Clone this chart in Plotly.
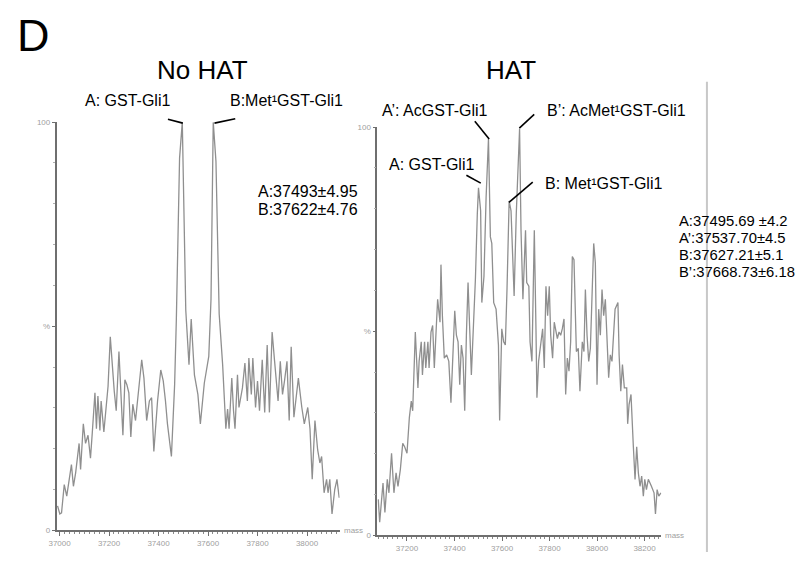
import plotly.graph_objects as go

# page geometry: the reference is 806x565; the browser keeps its default 8px body margin,
# so the figure is made 16px smaller and every position is given in page pixels.
PAGE_W, PAGE_H = 806, 565
OFF = 8
W, H = PAGE_W - 2 * OFF, PAGE_H - 2 * OFF

# ---------------- data ----------------
nohat_mass = [36992, 37001, 37008, 37019, 37029, 37048, 37056, 37065, 37079, 37085,
              37096, 37105, 37115, 37125, 37132, 37143, 37149, 37155, 37163, 37168,
              37179, 37187, 37196, 37205, 37213, 37221, 37229, 37240, 37256, 37264,
              37272, 37280, 37288, 37296, 37307, 37319, 37332, 37341, 37352, 37363,
              37372, 37381, 37396, 37409, 37419, 37428, 37436, 37452, 37465, 37472,
              37485, 37496, 37510, 37523, 37532, 37545, 37559, 37569, 37585, 37603,
              37612, 37621, 37632, 37645, 37659, 37672, 37679, 37685, 37696, 37703,
              37709, 37719, 37725, 37739, 37749, 37759, 37765, 37775, 37781, 37792,
              37800, 37808, 37819, 37829, 37839, 37848, 37859, 37869, 37883, 37892,
              37901, 37909, 37919, 37928, 37936, 37947, 37955, 37965, 37979, 37989,
              38003, 38012, 38021, 38032, 38043, 38052, 38059, 38069, 38079, 38085,
              38092, 38101, 38112, 38121, 38130]
nohat_int = [6.0, 4.0, 4.3, 11.2, 8.4, 16.1, 10.8, 14.1, 21.3, 14.9,
             26.1, 21.3, 23.3, 17.7, 23.7, 33.7, 24.9, 32.9, 24.5, 31.7,
             24.1, 30.1, 35.3, 47.4, 39.8, 34.1, 29.3, 43.8, 23.3, 36.9,
             35.7, 33.7, 22.9, 30.9, 26.9, 34.9, 41.8, 37.3, 26.9, 31.7,
             32.5, 19.3, 31.7, 39.3, 36.6, 31.7, 26.1, 18.1, 35.7, 51.8,
             91.2, 100.0, 54.0, 40.6, 51.8, 38.1, 33.3, 26.1, 36.1, 42.6,
             56.6, 100.0, 90.4, 53.0, 40.6, 24.9, 29.7, 24.9, 37.3, 29.3,
             24.9, 38.1, 30.1, 34.9, 41.0, 31.7, 42.2, 33.3, 42.2, 30.1,
             36.6, 29.3, 41.8, 28.9, 45.4, 28.9, 48.6, 41.4, 31.7, 41.4,
             33.3, 36.6, 41.4, 26.9, 45.0, 27.7, 32.5, 37.3, 30.1, 26.1,
             30.1, 24.9, 12.5, 26.9, 19.7, 16.5, 18.1, 9.2, 12.5, 9.2,
             12.5, 4.0, 10.0, 12.5, 8.0]

hat_mass = [37079, 37085, 37099, 37107, 37117, 37124, 37135, 37145, 37154, 37162,
            37172, 37182, 37190, 37200, 37210, 37218, 37224, 37235, 37246, 37251,
            37260, 37265, 37274, 37279, 37288, 37293, 37301, 37308, 37315, 37321,
            37329, 37339, 37343, 37349, 37357, 37367, 37376, 37385, 37395, 37401,
            37408, 37415, 37422, 37429, 37436, 37443, 37450, 37457, 37464, 37471,
            37478, 37488, 37496, 37501, 37510, 37515, 37524, 37533, 37543, 37551,
            37557, 37565, 37575, 37585, 37590, 37599, 37607, 37614, 37621, 37626,
            37630, 37638, 37645, 37651, 37660, 37674, 37680, 37688, 37699, 37704,
            37713, 37718, 37726, 37736, 37743, 37747, 37754, 37764, 37771, 37778,
            37785, 37792, 37799, 37805, 37813, 37820, 37826, 37833, 37840, 37847,
            37854, 37861, 37868, 37875, 37882, 37889, 37896, 37903, 37913, 37921,
            37928, 37938, 37945, 37951, 37958, 37965, 37972, 37979, 37986, 37993,
            38000, 38007, 38014, 38021, 38028, 38035, 38042, 38049, 38056, 38063,
            38076, 38088, 38093, 38100, 38107, 38115, 38125, 38129, 38135, 38143,
            38153, 38160, 38167, 38174, 38181, 38188, 38195, 38201, 38208, 38216,
            38229, 38240, 38246, 38253, 38260, 38269]
hat_int = [8.8, 3.2, 12.8, 5.6, 13.7, 10.4, 20.1, 10.4, 15.3, 12.0,
           16.1, 22.5, 21.7, 20.1, 28.9, 32.9, 30.5, 49.8, 36.1, 42.6,
           47.4, 39.3, 47.4, 41.0, 47.4, 41.0, 49.8, 51.4, 41.0, 47.4,
           57.8, 52.2, 66.3, 53.8, 43.4, 44.2, 42.6, 32.5, 46.6, 55.0,
           49.0, 47.4, 36.9, 46.6, 43.4, 30.5, 49.0, 61.9, 50.6, 39.3,
           49.0, 62.7, 78.7, 85.1, 79.5, 57.0, 63.4, 82.7, 97.2, 73.1,
           71.5, 57.0, 55.4, 46.6, 28.1, 50.6, 47.4, 46.6, 60.2, 75.5,
           81.9, 79.5, 69.9, 58.6, 78.7, 99.6, 74.7, 57.8, 74.7, 61.9,
           61.0, 47.4, 42.6, 74.7, 50.6, 33.7, 42.6, 47.4, 50.6, 41.0,
           61.0, 53.8, 61.0, 49.0, 43.4, 52.2, 50.6, 48.2, 49.8, 49.0,
           50.6, 53.0, 34.5, 43.4, 40.2, 47.4, 68.3, 67.5, 45.0, 45.8,
           35.3, 47.4, 45.0, 60.2, 49.0, 42.6, 45.8, 58.6, 71.5, 66.7,
           36.9, 55.4, 49.0, 60.2, 53.8, 57.8, 47.4, 38.6, 44.2, 42.6,
           55.4, 57.0, 44.2, 35.3, 41.8, 36.1, 36.1, 27.3, 32.1, 34.5,
           21.7, 13.7, 21.7, 15.3, 12.0, 14.5, 9.6, 13.7, 11.2, 13.7,
           12.0, 10.4, 5.2, 11.2, 9.6, 10.4]

nohat_ticks = [37000, 37200, 37400, 37600, 37800, 38000]
hat_ticks = [37200, 37400, 37600, 37800, 38000, 38200]
y_tickvals = [0, 50, 100]
y_ticktext = ["0", "%", "100"]

panel_titles = ["No HAT", "HAT"]
nohat_labels = ["A: GST-Gli1", "B:Met\u00b9GST-Gli1"]
nohat_stats = ["A:37493\u00b14.95", "B:37622\u00b14.76"]
hat_labels = ["A\u2019: AcGST-Gli1", "B\u2019: AcMet\u00b9GST-Gli1",
              "A: GST-Gli1", "B: Met\u00b9GST-Gli1"]
hat_stats = ["A:37495.69 \u00b14.2", "A\u2019:37537.70\u00b14.5",
             "B:37627.21\u00b15.1", "B\u2019:37668.73\u00b16.18"]

# ---------------- helpers (page pixel -> paper fraction) ----------------
def px(x):
    return (x - OFF) / W

def py(y):
    return 1 - (y - OFF) / H

FONT = "Arial, 'Liberation Sans', Helvetica, sans-serif"
TRACE_COLOR = "#8f8f8f"
AXIS_COLOR = "#6f6f6f"
TICK_FONT = dict(family=FONT, size=8, color="#a0a0a0")

fig = go.Figure()
fig.add_trace(go.Scatter(x=nohat_mass, y=nohat_int, mode="lines",
                         line=dict(color=TRACE_COLOR, width=1.3),
                         xaxis="x", yaxis="y", showlegend=False, hoverinfo="skip"))
fig.add_trace(go.Scatter(x=hat_mass, y=hat_int, mode="lines",
                         line=dict(color=TRACE_COLOR, width=1.3),
                         xaxis="x2", yaxis="y2", showlegend=False, hoverinfo="skip"))

def xaxis(domain, rng, ticks, anchor):
    return dict(domain=domain, range=rng, anchor=anchor,
                showgrid=False, zeroline=False, showline=True,
                linecolor=AXIS_COLOR, linewidth=1.5,
                tickmode="array", tickvals=ticks, ticktext=[str(t) for t in ticks],
                ticks="outside", ticklen=4, tickcolor=AXIS_COLOR, tickwidth=1,
                tickfont=TICK_FONT,
                minor=dict(dtick=20, tick0=37000, ticks="outside", ticklen=2,
                           tickcolor="#8a8a8a", tickwidth=1, showgrid=False))

def yaxis(domain, anchor):
    return dict(domain=domain, range=[0, 100], anchor=anchor,
                showgrid=False, zeroline=False, showline=True,
                linecolor=AXIS_COLOR, linewidth=1.5,
                tickmode="array", tickvals=y_tickvals, ticktext=y_ticktext,
                ticks="outside", ticklen=3, tickcolor=AXIS_COLOR, tickwidth=1,
                tickfont=TICK_FONT,
                minor=dict(dtick=10, ticks="outside", ticklen=2,
                           tickcolor="#b0b0b0", tickwidth=1, showgrid=False))

fig.update_layout(
    width=W, height=H,
    margin=dict(l=0, r=0, t=0, b=0),
    paper_bgcolor="white", plot_bgcolor="white",
    font=dict(family=FONT, color="black"),
    xaxis=xaxis([px(49), px(335)], [36988, 38132], nohat_ticks, "y"),
    yaxis=yaxis([py(535), py(120)], "x"),
    xaxis2=xaxis([px(373), px(660)], [37075, 38271], hat_ticks, "y2"),
    yaxis2=yaxis([py(540), py(125)], "x2"),
)

ann = []

def text(s, x, y, size, anchor="left", color="black"):
    ann.append(dict(text=s, x=px(x), y=py(y), xref="paper", yref="paper",
                    xanchor=anchor, yanchor="middle", showarrow=False,
                    font=dict(family=FONT, size=size, color=color)))

# panel letter and titles
text("D", 7, 32, 45)
text(panel_titles[0], 196, 67, 26, "center")
text(panel_titles[1], 508, 67, 26, "center")

# peak labels (left)
text(nohat_labels[0], 76, 98, 16)
text(nohat_labels[1], 222, 98, 16)
text(nohat_stats[0], 250, 190, 16)
text(nohat_stats[1], 250, 209, 16)

# peak labels (right)
text(hat_labels[0], 376, 108, 16)
text(hat_labels[1], 542, 108, 16)
text(hat_labels[2], 383, 163, 16)
text(hat_labels[3], 540, 182, 16)

for i, s in enumerate(hat_stats):
    text(s, 676, 220.5 + 17.2 * i, 14.8)

# "mass" axis titles
text("mass", 337, 535, 8, color="#a0a0a0")
text("mass", 662, 540, 8, color="#a0a0a0")

shapes = []

def seg(x0, y0, x1, y1, color="black", width=1.6):
    shapes.append(dict(type="line", xref="paper", yref="paper",
                       x0=px(x0), y0=py(y0), x1=px(x1), y1=py(y1),
                       line=dict(color=color, width=width)))

# leader lines
seg(161.5, 117, 176.5, 121)
seg(208.5, 121, 229.5, 116.5)
seg(471.5, 119, 486, 137)
seg(516.5, 126, 531.5, 112)
seg(463, 174, 477.5, 182)
seg(506, 201.5, 530, 181)

# panel divider
seg(706, 79, 706, 557, color="#c8c8c8", width=2)

fig.update_layout(annotations=ann, shapes=shapes)
fig.write_html("out.html", config={"displayModeBar": False})
